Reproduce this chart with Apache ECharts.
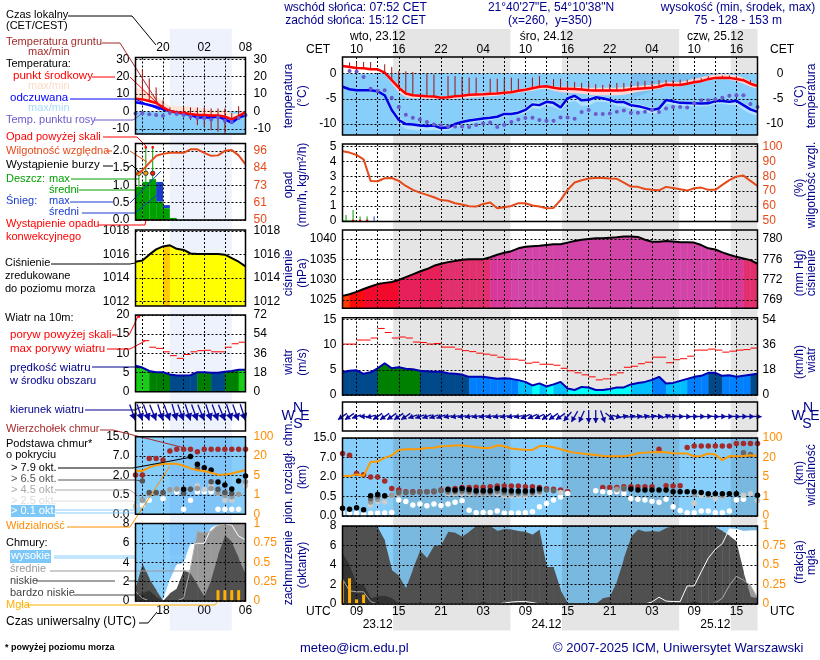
<!DOCTYPE html>
<html>
<head>
<meta charset="utf-8">
<title>meteorogram</title>
<script src="https://cdn.jsdelivr.net/npm/echarts@6/dist/echarts.min.js"></script>
<style>
html, body { margin: 0; padding: 0; background: #fff; }
#main { width: 820px; height: 660px; }
</style>
</head>
<body>
<div id="main"></div>
<script>
// ---- dane: lewy panel (16 godzin) ----
var leftCet = ['16','17','18','19','20','21','22','23','00','01','02','03','04','05','06','07','08']
var leftUtc = ['14','15','16','17','18','19','20','21','22','23','00','01','02','03','04','05','06']
var leftTemp = [7.3,6.9,6,4.8,2.3,0.2,-0.6,-0.8,-1.5,-2.1,-2.1,-2.3,-2.3,-3,-4.6,-2.7,-0.4]
var leftTempMax = [13.6,12.3,10.4,8.5,5.6,3,3,3,2.7,1.7,1.7,0.8,0.8,0.8,-1.2,-1.2,0.8]
var leftFeels = [5.2,4.6,3.7,2.7,1.2,0.2,-0.6,-1.2,-1.9,-3.5,-3.5,-3.5,-3,-4.6,-6.5,-3.5,-2.3]
var leftDew = [-1.2,-1,-1.7,-2.1,-2.5,-0.8,-1.5,-2.1,-3.1,-3.8,-4,-4.6,-3.5,-5.4,-6,-3.8,-2.1]
var leftGroundMax = [null,24.2,19,13.8,6.5,2.3,0.5,2.3,2.3,2.3,2.3,1.7,1.7,1.7,-1,3,null]
var leftGroundMin = [null,6.9,6,4.8,2,-2,-2,-2.1,-5,-7.9,-8.8,-10.8,-11.7,-12.7,-6.9,-5,null]
var leftRh = [80,83,88,92.7,94,94.7,94.7,94.7,97,97,94.7,92.7,93,96,96.5,93,87]
var leftRain = [0.96,1.1,1.18,0.53,0.34,0.06]
var leftSnowTop = [0.96,1.1,1.18,1.1,0.43,0.06]
var leftRainMax = [1.3,2.1,2.1]
var leftStorm = [1.35,1.35,1.35]
var leftOverscale = [null,2.1,2.1]
var leftConvective = [0,0,0,0]
var leftPress = [1015.4,1015.5,1016,1016.45,1016.7,1016.8,1016.5,1016.4,1016.1,1016.05,1016.05,1016.05,1016.05,1016,1015.7,1015.4,1015]
var leftWind = [6.8,6.3,5.4,5.1,5.1,4.5,4.2,4.2,4.3,5.1,5.1,4.95,4.95,5.2,5.4,5.7,5.7]
var leftGust = [null,13.3,11.6,11.3,10.4,9.4,8.7,9.7,10.4,10.7,10.8,10.4,10.4,11.6,12.5,12.9]
var leftGustOver = [19.6]
var leftDir = [340,342,340,338,342,340,344,340,342,340,338,342,340,338,342,340,342]
var leftTop = [2.1,2.1,6.4,6.4,6,9.1,9.8,9.8,9.8,8.8,9.8,9.8,9.8,9.8,9.8,9.8,9.8]
var leftB79 = [null,null,null,null,null,null,null,0.93,6.9,4.9,4,3.4,1.5,1.27,0.95,1.58,1.96]
var leftB65 = [null,1.58,0.68,0.68,0.68,null,null,0.62,0.93,3.85,null,1.52,0.93,0.68,0.6,null,null]
var leftB45 = [null,0.37,0.6,0.6,0.6,0.9,0.95,null,0.95,1,null,1,0.65,0.5,0.45,0.55,1.52]
var leftB25 = [0.21,0.35,null,null,null,0.88,0.95,null,null,1.2,0.93,1.2,0.6,0.36,0.36,0.55,1.2]
var leftB01 = [null,0.24,0.36,null,0.4,null,0.72,0.13,0.36,0.75,0.75,0.75,0.13,0.13,0.13,0.13,null]
var leftVis = [8.7,8.5,11.3,13,13.9,14,14,12.5,10.5,9,8.5,7.2,5.6,5.8,6.6,7.9,9.2]
var leftHigh = [0,0,0,0,0,2.1,3.7,3.9,5.8,5.95,5.95,7.5,7.85,7.95,7.85,6.7,6.3]
var leftMid = [1,0.3,0,0,0,0,0,0.3,3.4,7.2,7,7.2,7.9,8,8,8,8]
var leftLow = [1.3,3.9,2.3,1.1,0,0.8,1.3,3.2,2.85,1.65,0.45,2.2,4.75,6.8,6.1,4.4,2.7]
var leftVeryLow = [0.6,0.8,1.05,0.45,0,0,0,0,0,0,0,0,0,0,0,0,0]
var leftFog = [null,null,null,null,null,null,null,null,null,null,null,null,0.14,0.14,0.14,0.14]

// ---- dane: glowny panel (60 godzin) ----
var mainCet = ['08','09','10','11','12','13','14','15','16','17','18','19','20','21','22','23','00','01','02','03','04','05','06','07','08','09','10','11','12','13','14','15','16','17','18','19','20','21','22','23','00','01','02','03','04','05','06','07','08','09','10','11','12','13','14','15','16','17','18','19']
var mainUtc = ['07','08','09','10','11','12','13','14','15','16','17','18','19','20','21','22','23','00','01','02','03','04','05','06','07','08','09','10','11','12','13','14','15','16','17','18','19','20','21','22','23','00','01','02','03','04','05','06','07','08','09','10','11','12','13','14','15','16','17','18']
var dateTop = [[5,'wto, 23.12'],[29,'śro, 24.12'],[53,'czw, 25.12']]
var dateBottom = [[5,'23.12'],[29,'24.12'],[53,'25.12']]
var temp = [1.5,1.3,1.1,1.05,0.85,0.85,0.2,-1.3,-2.8,-3.95,-4.3,-4.4,-4.5,-4.55,-4.8,-4.7,-4.5,-4.4,-4.2,-4.15,-4.1,-4,-3.95,-3.8,-3.7,-3.4,-3.2,-2.9,-2.6,-2.5,-2.8,-3,-3,-3.05,-3.15,-3.3,-3.35,-3.35,-3.35,-3.35,-3.3,-3.1,-3,-2.9,-2.8,-2.6,-2.2,-2.25,-2.25,-2,-1.7,-1.5,-1.1,-0.85,-0.8,-0.85,-1.05,-1.3,-2,-2.45]
var tempMax = [1.6,1.4,1.2,1.15,0.95,0.95,0.4,-0.9,-2.4,-3.6,-4.1,-4.3,-4.4,-4.45,-4.6,-4.5,-4.3,-4.1,-3.9,-3.8,-3.8,-3.7,-3.6,-3.5,-3.3,-3.1,-2.9,-2.6,-2.3,-2.3,-2.5,-2.6,-2.6,-2.6,-2.7,-2.8,-2.8,-2.8,-2.8,-2.8,-2.7,-2.5,-2.4,-2.3,-2.2,-2,-1.6,-1.7,-1.7,-1.3,-1,-0.7,-0.4,-0.2,-0.15,-0.2,-0.4,-0.8,-1.6,-2.1]
var tempMin = [1.4,1.2,1,0.95,0.75,0.75,-0.1,-2,-3.7,-4.7,-4.9,-4.9,-5,-5,-5.1,-5.1,-5,-4.9,-4.8,-4.7,-4.6,-4.5,-4.4,-4.2,-4,-3.8,-3.6,-3.4,-3.1,-3,-3.4,-3.7,-3.8,-3.9,-4,-4.2,-4.3,-4.3,-4.3,-4.3,-4.2,-3.9,-3.6,-3.4,-3.3,-3,-2.6,-2.6,-2.6,-2.2,-2,-1.7,-1.4,-1.1,-1.1,-1.2,-1.5,-2,-2.6,-3]
var feels = [-2.6,-3.1,-3.3,-3.3,-3.3,-3.5,-4.3,-7.2,-9.2,-10,-10.1,-10.3,-10.4,-10.3,-10.8,-10.7,-10,-9.6,-9.3,-9.1,-8.9,-8.75,-8.55,-8,-8,-7.75,-7.2,-6.1,-6.25,-5.6,-5.8,-6.7,-4.9,-4.4,-5.3,-5.2,-4.7,-4.9,-5.25,-5.65,-5.65,-6.25,-6.45,-6.8,-7.2,-6.9,-5.25,-5.5,-5.8,-5.85,-5.9,-5.95,-5.9,-5.45,-5.45,-5.6,-5.4,-6.25,-7.1,-7.6]
var feelsMax = [-2.4,-2.9,-3.1,-3.1,-3.1,-3.3,-4,-6.6,-8.6,-9.7,-9.9,-10,-10.2,-10.1,-10.6,-10.4,-9.7,-9.3,-9,-8.7,-8.6,-8.4,-8.2,-7.6,-7.5,-7.3,-6.8,-5.6,-5.8,-5.1,-5.3,-6.2,-4.5,-4,-4.9,-4.7,-4.3,-4.5,-4.9,-5.2,-5.3,-5.9,-6,-6.4,-6.8,-6.5,-4.9,-5.2,-5.5,-5.5,-5.6,-5.6,-5.6,-5.1,-5.1,-5.3,-5,-5.8,-6.7,-7.2]
var feelsMin = [-2.8,-3.3,-3.5,-3.5,-3.5,-3.7,-4.8,-8,-10,-11,-11.2,-11.3,-11.3,-11.2,-11.4,-11.3,-10.6,-10.2,-9.9,-9.6,-9.4,-9.2,-9,-8.5,-8.4,-8.2,-7.8,-6.8,-7,-6.3,-6.6,-7.3,-5.8,-5.4,-6.4,-6.3,-5.6,-5.6,-5.8,-6.4,-6.5,-7,-7.2,-7.5,-8,-7.7,-6,-6.1,-6.4,-6.4,-6.5,-6.5,-6.4,-6,-6,-6.2,-6.2,-7.2,-8,-8.4]
var dew = [null,0.5,0.4,-0.65,-3,-3.4,-3.3,-4.8,-6.6,-8.15,-8.75,-9.1,-9.6,-10.1,-10.3,-10.5,-10.5,-10.5,-10.6,-10.2,-9.9,-9.7,-10.6,-10.2,-9.6,-9.1,-8.8,-8.75,-9.2,-9.35,-9.35,-8.7,-8.7,-8.95,-7.6,-7.2,-8,-8,-7.9,-7.55,-7.3,-7.75,-7.75,-7.55,-7.2,-7.6,-6.9,-6.6,-6.6,-6.7,-5.9,-5.3,-5.3,-5.1,-4.8,-4.4,-4.3,-4.3,-6.05,-6.6]
var groundMax = [null,2.2,2.2,2.3,2.3,null,1.85,1.3,0.5,0.45,0.3,null,0,-0.15,null,-0.5,-0.5,-0.65,-0.8,-0.8,null,-1,-1,-1,-0.8,-1,null,-0.8,-0.5,null,-1.1,-1,-1.65,-1.65,-1.85,-1.85,-2.1,-2.25,-2,-1.85,-1.85,-1.85,-1.6,-1.45,-1.45,-1.3,-1.3,-1.3,-1.2,-1.2,-1.05,-0.9,-0.5,null,-0.4,-0.4,-0.5,-1,-1.3,-1.65]
var mainRh = [96.9,96,94.4,91.5,76.9,76.7,78.7,78.9,76.9,73.5,70.9,69,67.5,65.9,64,63.5,61.9,61,59.9,59.6,61.4,62.3,58.5,59.2,60,61.9,61.9,60.3,59.6,58.5,58.7,64,70.9,75.8,77.4,78.5,78.9,78.9,78.5,78.3,75.8,73.1,72.9,71.5,71,70.6,72.9,72.2,71.3,70.4,72,72.4,70.9,70.9,74.2,77.4,79.8,80.5,76.9,73.5]
var mainRainMean = [0.04,0.04]
var mainRainMax = [0.4,0.74,0.3,0.3]
var mainSnowMax = [null,null,null,null,0.3]
var mainConvective = [null,0,0,0]
var mainPress = [1026,1026.4,1027,1027.7,1028.3,1028.9,1029.2,1029.4,1029.9,1030.6,1031.3,1032,1032.6,1033.4,1033.9,1034.3,1034.6,1034.9,1035,1035,1035,1035.5,1036.1,1036.6,1037,1037.7,1038.1,1038.2,1038.3,1038.5,1038.7,1038.7,1039.1,1039.5,1039.8,1040,1040.2,1040.2,1040.3,1040.4,1040.6,1040.6,1040.5,1039.8,1039.3,1039.3,1039.5,1039.4,1039.2,1039.2,1039.1,1038.5,1037.7,1037.4,1036.7,1036.1,1035.6,1035.2,1034.8,1033.9]
var mainWind = [4.5,4.8,4.9,4.2,4.5,5.3,6.3,5.3,5.5,5.2,5.1,4.8,4.7,4.6,4.6,4.3,4.2,4.05,3.6,3.6,3.6,3.4,3.2,3.3,3.2,2.95,2.6,1.9,2.3,1.7,2.1,2.6,1.3,1,1.6,1.5,1,1,1.2,1.5,1.5,2.1,2.4,2.6,3,3.6,2.3,2.4,2.8,3.2,3.6,3.8,4.4,4.4,3.8,3.9,3.6,3.8,4,4.2]
var mainGust = [10.1,10.1,10.9,10.9,11.3,13.2,12.4,11.3,11.5,11.3,10.5,10.4,10.1,10.2,9.5,9.5,9.1,8.8,8.6,8.3,8.1,7.9,7.5,7.1,7.1,6.9,6.3,6.5,6.1,6.1,5.9,5.3,4.8,4.4,4,3.6,3,3.2,4,4.4,5.5,5.7,6.2,6.5,7.5,7.5,6.4,7,7.2,7.7,8.9,8.9,9.1,8.9,8.5,8.7,8.9,9,9.3]
var mainDir = [55,55,70,90,75,55,55,55,55,55,70,70,70,70,70,80,80,80,80,80,80,80,80,80,80,80,65,65,65,55,55,55,40,30,25,0,0,340,310,285,260,260,262,258,260,270,250,265,270,272,270,270,268,272,270,270,272,270,270,272]
var mainTop = [8.6,7.9,2.9,2.6,2,2,1.7,1.12,1,0.86,0.86,0.86,0.86,0.86,1,1.07,1.12,1.2,1.2,1.22,1.22,1.25,1.3,1.3,1.3,1.3,1.25,1.25,1.2,1.1,1.05,1,0.86,null,null,null,null,1.2,1.2,1.2,1.25,1.25,1.25,1.25,1.25,10.4,1.32,1.3,1.32,11.1,11.7,11.7,11.7,11.7,11.7,11.7,12.7,12.7,12.7,12.7]
var mainB79 = [0.2,0.17,0.21,0.16,0.55,0.66,0.55,null,null,null,null,null,null,null,null,1.04,1,1.12,1.04,0.94,0.94,0.94,1.12,1,0.94,0.92,0.92,0.94,1.07,null,null,null,null,null,null,null,null,null,null,null,null,1.07,1,1,1,1,1,0.86,0.86,0.86,0.86,0.8,0.72,0.72,0.72,0.72,0.72,null,null,0.6]
var mainB65 = [null,null,null,null,0.44,0.5,null,null,0.8,0.8,0.8,0.82,0.86,0.92,0.94,0.9,0.9,0.95,0.9,0.85,0.85,0.85,0.95,0.85,0.82,0.8,0.8,0.82,0.95,1,0.94,null,null,null,null,null,null,null,null,null,1.1,null,null,null,null,null,null,null,null,null,null,null,null,null,null,null,null,9,8.2,null]
var mainB45 = [null,null,null,null,0.36,0.42,0.5,0.6,0.72,0.78,null,null,null,null,null,0.8,0.8,0.85,0.8,0.75,0.75,0.75,0.85,0.7,0.7,0.7,0.7,0.75,0.85,null,null,null,null,null,null,null,null,null,null,1.05,1.12,null,null,null,null,null,null,null,null,null,0.66,null,0.6,null,0.56,null,null,null,null,null]
var mainB25 = [null,null,null,null,0.28,0.37,0.36,0.56,0.68,null,null,null,null,null,null,0.72,0.72,0.72,0.72,0.72,0.72,0.72,0.72,0.55,0.55,0.55,0.55,0.72,0.72,null,null,0.8,null,null,null,null,null,null,null,1,1.05,null,null,null,null,null,null,null,null,null,0.33,0.6,0.55,0.45,0.5,null,null,0.6,0.72,0.4]
var mainB01 = [0.07,0.07,0.07,0.04,0.07,0.08,0.08,0.09,0.41,0.37,0.28,0.31,0.26,0.31,0.27,0.31,0.35,0.39,0.15,0.085,0.09,0.09,0.13,0.08,0.08,0.08,0.085,0.11,0.24,0.32,0.41,0.49,0.74,null,null,null,0.94,0.86,0.8,0.86,0.74,0.45,0.43,0.41,0.38,0.35,0.43,0.24,0.14,0.085,0.085,0.13,0.13,0.085,0.085,0.13,0.41,0.43,null,null]
var mainVis = [5.9,5.7,7,5.9,16.6,16.9,19.7,28.8,51,53.6,53.6,55,59,60,66,67,69,69,66,62,59,59,70,66,57,54,52,51,67,67,62,54,46,40,36,33,30,26.4,25,25,25,29,37.6,40,41.6,43,41.6,37.6,36,36,25,26.4,36,32,18,26,25,26,29,26]
var mainHigh = [0,0,0,0,0,0,0,0,0,0,0,0,0,0,0,0,0,0,0,0,0,0,0,0.1,0.2,0.25,0.25,0.15,0,0,0,0,0,0,0,0,0,0,0,0,0,0,0,0,0.2,0.7,0.3,0.25,0.25,1.85,1.85,3.3,4.7,5.6,6.2,7.7,7.65,7.45,7.5,7.5]
var mainMid = [2.55,1.35,1.25,1.25,0.25,0,0,0,0,0,0,0,0,0,0,0,0,0,0,0,0,0,0,0,0,0,0,0,0,0,0,0,0,0,0,0,0,0,0,0,0,0,0,0,0,0,0,0,0,0,0,0,0,0.1,0.6,1.9,2.85,2.45,1.9,0.6]
var mainLow = [8,8,8,7.95,7.95,7.9,6.5,3.5,2.9,1.6,3.6,5.5,4.7,6,6,7.4,7.3,6.9,7.4,8,7.95,8,7.5,7.7,7.65,7.5,7.4,7.1,7.65,3.8,3.8,1.4,0.07,0,0,0,0,0.6,0.75,2.3,4.7,6.9,7.65,7.4,7.5,7.4,7.8,8,8,8,8,8,7.9,7.9,7.5,7,6.4,3.3,0.75,0.6]
var mainVeryLow = [5.2,4,2,2,0.6,0.8,0.85,0.6,0.07,0,0,0,0,0,0,0,0,0,0,0,0.25,0,0,0,0,0,0,0,0,0,0,0,0,0,0,0,0,0,0,0,0,0,0,0,0,0,0,0,0,0,0.3,0,0,0,0,0,0,0,0,0]
var mainFog = [0.3,0.33,0.06,0.12]
// ciemniejszy znak wodny w panelu temperatury
var shadeTop = [null,null,null,null,null,null,null,null,null,null,null,null,null,null,null,null,null,null,null,null,null,null,null,null,null,null,null,null,null,null,null,null,null,null,null,null,null,null,null,null,null,0,0,0,0,0,0,0,0,0,0,0,0,0,0,0,0]
var shadeEdge = [null,null,null,null,null,null,null,null,null,null,null,null,null,null,null,null,null,null,null,null,null,null,null,null,null,null,null,null,null,null,null,null,null,null,null,null,null,null,null,null,null,-4.9,-4.5,-4,-3.5,-3.1,-2.6,-2.2,-1.7,-1.4,-1.1,-0.9,-0.7,-0.5,-0.4,-0.3,-0.1]

// ---- opisy osi ----
var baseKmTicks = [0,0.5,2,7,15]
var baseKmLabels = ['0.0','0.5','2.0','7.0','15.0']
var visKmTicks = [0,1,5,20,100]
var fogLabels = ['0','0.25','0.5','0.75','1']
var oktaTicks = [0,2,4,6,8]

var NAVY = '#00008b'
var RHCOLOR = '#e64a19'
var ORANGE = '#ff8c00'
var SKY = '#87cefa'

// kolor wg wartosci - skale
function windColorMain(v) {
    if (v < 2) return '#00ffff'
    if (v < 3) return '#00bfff'
    if (v < 4) return '#0080ff'
    if (v < 5) return '#004a8c'
    return '#008000'
}
function windColorLeft(v) {
    if (v < 5) return '#004a8c'
    if (v < 5.5) return '#008000'
    return '#19cc19'
}
function pressColor(a, b) {
    var v = Math.min(a, b)
    if (v < 1016.6) return '#ffff00'
    if (v < 1020) return '#ffc800'
    if (v < 1026.3) return '#ff3c00'
    if (v < 1027.5) return '#ff0a0a'
    if (v < 1029.9) return '#f20a2c'
    if (v < 1033.8) return '#e8205a'
    if (v < 1035.05) return '#e2306f'
    if (v < 1036.8) return '#d8389a'
    return '#d244a8'
}
// pozycja na osi nieliniowej (rowne odstepy miedzy podzialkami)
function toPos(v, stops) {
    if (v == null) return null
    for (var i = 0; i < stops.length - 1; i++) {
        if (v <= stops[i + 1]) return i + (v - stops[i]) / (stops[i + 1] - stops[i])
    }
    return stops.length - 1
}

var grids = [], xAxes = [], yAxes = [], series = [], graphics = []

function yAxisOf(gridIndex, side, cfg, showSplit) {
    var ticks = cfg.ticks || []
    var labels = cfg.labels
    return {
        type: 'value', gridIndex: gridIndex, position: side, min: cfg.min, max: cfg.max, z: 5,
        axisLine: {show: false},
        axisTick: {show: false, customValues: ticks},
        axisLabel: {
            show: ticks.length > 0, customValues: ticks, color: cfg.color || '#000', fontSize: 12,
            fontFamily: 'Liberation Sans', margin: cfg.margin || 6, align: cfg.align, showMinLabel: true, showMaxLabel: true,
            formatter: function (val) {
                if (!labels) return String(val)
                return labels[ticks.indexOf(val)]
            }
        },
        splitLine: {show: !!showSplit && ticks.length > 0, lineStyle: {color: '#000', type: [2, 2], width: 1}}
    }
}

function addPanel(rect, cats, gridFn, labelFn, xPos, xMargin, yl, yr) {
    var idx = grids.length
    grids.push({left: rect[0], top: rect[1], width: rect[2], height: rect[3], show: true, borderWidth: 0,
        backgroundColor: rect[4] || 'transparent'})
    xAxes.push({
        type: 'category', gridIndex: idx, data: cats, boundaryGap: false, position: xPos || 'bottom', z: 5,
        axisLine: {show: false}, axisTick: {show: false},
        axisLabel: labelFn ? {show: true, interval: labelFn, margin: xMargin, color: '#000', fontSize: 12, fontFamily: 'Liberation Sans'} : {show: false},
        splitLine: {show: true, interval: gridFn, lineStyle: {color: '#000', type: [2, 2], width: 1}}
    })
    yAxes[idx * 2] = yAxisOf(idx, 'left', yl, true)
    yAxes[idx * 2 + 1] = yAxisOf(idx, 'right', yr || {min: yl.min, max: yl.max})
    graphics.push({type: 'rect', z: 30, silent: true, shape: {x: rect[0], y: rect[1], width: rect[2], height: rect[3]},
        style: {fill: 'none', stroke: '#000', lineWidth: 1.5}})
    return idx
}

// wypelnienie miedzy dwiema krzywymi, odcinek po odcinku
function ribbon(p, lo, hi, color, z, side) {
    var rows = []
    var seethrough = String(color).indexOf('rgba') === 0
    for (var i = 0; i < hi.length - 1; i++) {
        if (hi[i] != null && hi[i + 1] != null) rows.push([i, hi[i]])
    }
    series.push({
        type: 'custom', xAxisIndex: p, yAxisIndex: p * 2 + (side || 0), z: z, silent: true, data: rows,
        clip: true,
        renderItem: function (params, api) {
            var i = rows[params.dataIndex][0]
            var a = api.coord([i, hi[i]]), b = api.coord([i + 1, hi[i + 1]])
            var c = api.coord([i + 1, lo[i + 1]]), d = api.coord([i, lo[i]])
            if (!seethrough) {
                // zakladka, zeby nie bylo szczelin miedzy odcinkami
                b[0] += 0.4
                c[0] += 0.4
            }
            return {type: 'polygon', shape: {points: [a, b, c, d]},
                style: {fill: typeof color === 'function' ? color(hi[i], hi[i + 1]) : color}}
        }
    })
}
// prostokaty godzinowe (opad)
function blocks(p, lo, hi, color, z) {
    series.push({
        type: 'custom', xAxisIndex: p, yAxisIndex: p * 2, z: z, silent: true,
        data: hi.map(function (v, i) { return [i, v] }),
        renderItem: function (params, api) {
            var i = params.dataIndex
            var a = api.coord([i, hi[i]]), b = api.coord([i + 1, lo ? lo[i] : 0])
            return {type: 'rect', shape: {x: a[0], y: a[1], width: b[0] - a[0], height: b[1] - a[1]}, style: {fill: color}}
        }
    })
}
// poziome kreski godzinowe (porywy)
function stepLines(p, vals, color) {
    var rows = []
    vals.forEach(function (v, i) { if (v != null) rows.push([i, v]) })
    series.push({
        type: 'custom', xAxisIndex: p, yAxisIndex: p * 2, z: 7, silent: true, data: rows,
        renderItem: function (params, api) {
            var r = rows[params.dataIndex]
            var a = api.coord([r[0], r[1]]), b = api.coord([r[0] + 1, r[1]])
            return {type: 'line', shape: {x1: a[0], y1: a[1], x2: b[0], y2: b[1]}, style: {stroke: color, lineWidth: 1}}
        }
    })
}
// pionowe kreski od lo do hi; half = w srodku godziny
function sticks(p, side, lo, hi, color, width, half, z) {
    var rows = []
    hi.forEach(function (v, i) { if (v != null) rows.push([i, v]) })
    series.push({
        type: 'custom', xAxisIndex: p, yAxisIndex: p * 2 + side, z: z || 7, silent: true, data: rows,
        renderItem: function (params, api) {
            var r = rows[params.dataIndex], i = r[0]
            var a = api.coord([i, r[1]]), b = api.coord([i, lo ? lo[i] : 0])
            var dx = half ? (api.coord([i + 1, r[1]])[0] - a[0]) / 2 : 0
            return {type: 'line', shape: {x1: a[0] + dx, y1: a[1], x2: a[0] + dx, y2: b[1]}, style: {stroke: color, lineWidth: width}}
        }
    })
}
// znaczki w srodku godziny (burza, opad ponad skala)
function marks(p, vals, fills, size, round) {
    var rows = []
    vals.forEach(function (v, i) { if (v != null) rows.push([i, v]) })
    series.push({
        type: 'custom', xAxisIndex: p, yAxisIndex: p * 2, z: 8, silent: true, data: rows,
        renderItem: function (params, api) {
            var r = rows[params.dataIndex], i = r[0]
            var a = api.coord([i, r[1]])
            var cx = a[0] + (api.coord([i + 1, r[1]])[0] - a[0]) / 2
            var fill = fills instanceof Array ? fills[i] : fills
            if (round) return {type: 'circle', shape: {cx: cx, cy: a[1], r: size}, style: {fill: fill, stroke: '#333', lineWidth: 1}}
            return {type: 'rect', shape: {x: cx - size, y: a[1] - size, width: size * 2, height: size * 2}, style: {fill: fill}}
        }
    })
}
function line(p, side, vals, color, width, z) {
    series.push({type: 'line', xAxisIndex: p, yAxisIndex: p * 2 + side, data: vals, showSymbol: false, z: z || 8, silent: true,
        lineStyle: {color: color, width: width}, itemStyle: {color: color}})
}
function dots(p, side, vals, color, size, z) {
    var rows = []
    vals.forEach(function (v, i) { if (v != null) rows.push([i, v]) })
    series.push({type: 'scatter', xAxisIndex: p, yAxisIndex: p * 2 + side, data: rows, symbolSize: size, z: z || 8, silent: true,
        itemStyle: {color: color, opacity: 1}})
}
// strzalki kierunku wiatru
function arrows(p, dirs, lenFn, anchor, headLen, headW) {
    series.push({
        type: 'custom', xAxisIndex: p, yAxisIndex: p * 2, z: 8, silent: true,
        data: dirs.map(function (d, i) { return [i, 0.5] }),
        renderItem: function (params, api) {
            var i = params.dataIndex
            var th = dirs[i] * Math.PI / 180
            var ux = -Math.sin(th), uy = Math.cos(th)
            var c = api.coord([i, anchor])
            var L = lenFn(uy)
            var tip = anchor === 0.5 ? [c[0] + ux * L / 2, c[1] + uy * L / 2] : [c[0], c[1]]
            var tail = [tip[0] - ux * L, tip[1] - uy * L]
            var bx = tip[0] - ux * headLen, by = tip[1] - uy * headLen
            return {type: 'group', children: [
                {type: 'line', shape: {x1: tail[0], y1: tail[1], x2: tip[0], y2: tip[1]}, style: {stroke: '#0a0aa0', lineWidth: 1.3}},
                {type: 'polygon', shape: {points: [tip, [bx - uy * headW, by + ux * headW], [bx + uy * headW, by - ux * headW]]}, style: {fill: '#0a0aa0'}}
            ]}
        }
    })
}
function belowZero(p, minVal) {
    series.push({type: 'line', xAxisIndex: p, yAxisIndex: p * 2, data: [], z: 1, silent: true,
        markArea: {silent: true, itemStyle: {color: SKY}, data: [[{yAxis: minVal}, {yAxis: 0}]]}})
}

// ---- panele ----
var LX = 135.5, LW = 110, MX = 342.5, MW = 415
function leftGrid(i) { return i % 3 === 1 }
function leftLabel(i) { return i % 6 === 4 }
function mainGrid(i) { return i % 3 === 2 }
function mainLabel(i) { return i % 6 === 2 }

var pLT = addPanel([LX, 57.5, LW, 76.5], leftCet, leftGrid, leftLabel, 'top', 4,
    {min: -13, max: 31, ticks: [-10,0,10,20,30]}, {min: -13, max: 31, ticks: [-10,0,10,20,30], margin: 8})
var pLR = addPanel([LX, 143.5, LW, 76.5], leftCet, leftGrid, null, null, 0,
    {min: 0, max: 2.21, ticks: [0,0.5,1,1.5,2], labels: ['0.0','0.5','1.0','1.5','2.0']},
    {min: 50, max: 100.9, ticks: [50,61.5,73,84.5,96], labels: ['50','61','73','84','96'], color: RHCOLOR, margin: 8})
var pLP = addPanel([LX, 230, LW, 76], leftCet, leftGrid, null, null, 0,
    {min: 1011.63, max: 1018.1, ticks: [1012,1014,1016,1018]},
    {min: 1011.63, max: 1018.1, ticks: [1012,1014,1016,1018], margin: 8})
var pLW = addPanel([LX, 315, LW, 76.7], leftCet, leftGrid, null, null, 0,
    {min: 0, max: 20, ticks: [0,5,10,15,20]},
    {min: 0, max: 20, ticks: [0,5,10,15,20], labels: ['0','18','36','54','72'], margin: 8})
var pLD = addPanel([LX, 402.5, LW, 28.5], leftCet, leftGrid, null, null, 0, {min: 0, max: 1})
var pLB = addPanel([LX, 436.7, LW, 77.6, SKY], leftCet, leftGrid, null, null, 0,
    {min: 0, max: 4, ticks: [0,1,2,3,4], labels: baseKmLabels},
    {min: 0, max: 4, ticks: [0,1,2,3,4], labels: ['0','1','5','20','100'], color: ORANGE, margin: 8})
var pLC = addPanel([LX, 523.5, LW, 77.5, SKY], leftUtc, leftGrid, leftLabel, 'bottom', 4,
    {min: 0, max: 8, ticks: oktaTicks},
    {min: 0, max: 1, ticks: [0,0.25,0.5,0.75,1], labels: fogLabels, color: ORANGE, margin: 8})

var pMT = addPanel([MX, 57, MW, 78], mainCet, mainGrid, mainLabel, 'top', 1,
    {min: -12.17, max: 3.29, ticks: [-10,-5,0]}, {min: -12.17, max: 3.29, ticks: [-10,-5,0], align: 'right', margin: 26})
var pMR = addPanel([MX, 144, MW, 77.5], mainCet, mainGrid, null, null, 0,
    {min: -0.04, max: 5.18, ticks: [0,1,2,3,4,5]},
    {min: 49.55, max: 101.8, ticks: [50,60,70,80,90,100], color: RHCOLOR, margin: 5})
var pMP = addPanel([MX, 230, MW, 78.3], mainCet, mainGrid, null, null, 0,
    {min: 1022.95, max: 1042.2, ticks: [1025,1030,1035,1040]},
    {min: 1022.95, max: 1042.2, ticks: [1025,1030,1035,1040], labels: ['769','772','776','780'], margin: 5})
var pMW = addPanel([MX, 317.7, MW, 77.3], mainCet, mainGrid, null, null, 0,
    {min: 0, max: 15.33, ticks: [0,5,10,15]},
    {min: 0, max: 15.33, ticks: [0,5,10,15], labels: ['0','18','36','54'], margin: 5})
var pMD = addPanel([MX, 402, MW, 29], mainCet, mainGrid, null, null, 0, {min: 0, max: 1})
var pMB = addPanel([MX, 438, MW, 78, SKY], mainCet, mainGrid, null, null, 0,
    {min: 0, max: 4, ticks: [0,1,2,3,4], labels: baseKmLabels},
    {min: 0, max: 4, ticks: [0,1,2,3,4], labels: ['0','1','5','20','100'], color: ORANGE, margin: 5})
var pMC = addPanel([MX, 526, MW, 78, SKY], mainUtc, mainGrid, mainLabel, 'bottom', 2,
    {min: 0, max: 8, ticks: oktaTicks},
    {min: 0, max: 1, ticks: [0,0.25,0.5,0.75,1], labels: fogLabels, color: ORANGE, margin: 5})

// daty jako dodatkowa os na panelu gornym i dolnym
function dateAxis(gridIndex, pos, offset, margin, cats, rows) {
    var names = cats.map(function () { return '' })
    rows.forEach(function (r) { names[r[0]] = r[1] })
    xAxes.push({type: 'category', gridIndex: gridIndex, data: names, boundaryGap: false, position: pos, offset: offset, z: 5,
        axisLine: {show: false}, axisTick: {show: false}, splitLine: {show: false},
        axisLabel: {interval: 0, margin: margin, color: '#000', fontSize: 12, fontFamily: 'Liberation Sans'}})
}
dateAxis(pMT, 'top', 13, 1, mainCet, dateTop)
dateAxis(pMC, 'bottom', 13, 2, mainUtc, dateBottom)

// ---- noc (pasy w tle) ----
var bandLeft = [[5, 14]]
var bandMain = [[7.2, 23.87], [31.2, 47.87], [55.2, 59]]
function bandGrid(x, w, max, bands, color) {
    var idx = grids.length
    grids.push({left: x, top: 29, width: w, height: 601.5, show: false})
    xAxes.push({type: 'value', gridIndex: idx, min: 0, max: max, show: false})
    yAxes[idx * 2] = {type: 'value', gridIndex: idx, min: 0, max: 1, show: false}
    yAxes[idx * 2 + 1] = {type: 'value', gridIndex: idx, min: 0, max: 1, show: false}
    return {idx: idx, bands: bands, color: color}
}
// osie dat dopisane wyzej, wiec indeks osi x dla pasow trzeba policzyc po dopisaniu
var bandInfo = [bandGrid(LX, LW, 16, bandLeft, 'rgba(30,90,230,0.08)'), bandGrid(MX, MW, 59, bandMain, 'rgba(0,0,0,0.1)')]
bandInfo.forEach(function (b, n) {
    series.push({type: 'line', xAxisIndex: xAxes.length - 2 + n, yAxisIndex: b.idx * 2, data: [], z: 2, silent: true,
        markArea: {silent: true, itemStyle: {color: b.color},
            data: b.bands.map(function (r) { return [{xAxis: r[0]}, {xAxis: r[1]}] })}})
})

// ---- lewe wykresy ----
belowZero(pLT, -13)
ribbon(pLT, leftTemp, leftTempMax, '#fde3d6', 3)
sticks(pLT, 0, leftGroundMin, leftGroundMax, '#a01010', 1)
line(pLT, 0, leftFeels, '#0000ff', 2.5)
line(pLT, 0, leftTemp, '#ff0000', 2.5, 9)
dots(pLT, 0, leftDew, '#6a5acd', 4, 10)

blocks(pLR, leftRain, leftSnowTop, '#1a3ccf', 3)
blocks(pLR, null, leftRain, '#00a000', 3)
sticks(pLR, 0, null, leftRainMax, '#00a000', 1, true)
line(pLR, 1, leftRh, RHCOLOR, 2)
marks(pLR, leftStorm, ['#ffee00', '#ffa500', '#ff2000'], 2.2, true)
marks(pLR, leftOverscale, '#ff0000', 1.2, false)
marks(pLR, leftConvective, '#ff0000', 1, false)

ribbon(pLP, leftPress.map(function () { return 1011.63 }), leftPress, pressColor, 3)
line(pLP, 0, leftPress, '#000', 2)

ribbon(pLW, leftWind.map(function () { return 0 }), leftWind, windColorLeft, 3)
line(pLW, 0, leftWind, '#0000b0', 2)
stepLines(pLW, leftGust, '#ff0000')
marks(pLW, leftGustOver, '#ff0000', 1.2, false)

arrows(pLD, leftDir, function () { return 17 }, 0.37, 7, 4)

dots(pLB, 0, leftTop.map(function (v) { return toPos(v, baseKmTicks) }), '#a52a2a', 5.5)
dots(pLB, 0, leftB01.map(function (v) { return toPos(v, baseKmTicks) }), '#ffffff', 5.5)
dots(pLB, 0, leftB25.map(function (v) { return toPos(v, baseKmTicks) }), '#cccccc', 5.5)
dots(pLB, 0, leftB45.map(function (v) { return toPos(v, baseKmTicks) }), '#999999', 5.5)
dots(pLB, 0, leftB65.map(function (v) { return toPos(v, baseKmTicks) }), '#555555', 5.5)
dots(pLB, 0, leftB79.map(function (v) { return toPos(v, baseKmTicks) }), '#000000', 5.5)
line(pLB, 1, leftVis.map(function (v) { return toPos(v, visKmTicks) }), '#ff9900', 2, 9)

var zeroLeft = leftHigh.map(function () { return 0 })
ribbon(pLC, zeroLeft, leftHigh, '#ffffff', 3)
ribbon(pLC, zeroLeft, leftMid, '#999999', 3)
ribbon(pLC, zeroLeft, leftLow, '#505050', 3)
ribbon(pLC, zeroLeft, leftVeryLow, '#333333', 3)
line(pLC, 0, leftHigh, '#ffffff', 1, 6)
line(pLC, 0, leftMid, '#aaaaaa', 1, 6)
sticks(pLC, 1, null, leftFog, '#ffb000', 3, false, 7)

// ---- glowne wykresy ----
belowZero(pMT, -12.17)
ribbon(pMT, shadeEdge, shadeTop, 'rgba(0,60,160,0.1)', 2)
ribbon(pMT, tempMin, tempMax, '#fdd5d2', 3)
ribbon(pMT, feelsMin, feelsMax, '#b4e2fd', 3)
sticks(pMT, 0, temp, groundMax, '#a01010', 1)
line(pMT, 0, feels, '#0000e0', 2.5)
line(pMT, 0, temp, '#ff0000', 2.5, 9)
dots(pMT, 0, dew, '#6a5acd', 4, 10)

blocks(pMR, null, mainRainMean, '#00a000', 3)
sticks(pMR, 0, null, mainRainMax, '#00a000', 1, true)
sticks(pMR, 0, null, mainSnowMax, '#1a3ccf', 1, true)
marks(pMR, mainConvective, '#e00000', 1.2, false)
line(pMR, 1, mainRh, RHCOLOR, 2)

ribbon(pMP, mainPress.map(function () { return 1022.95 }), mainPress, pressColor, 3)
line(pMP, 0, mainPress, '#000', 2)

ribbon(pMW, mainWind.map(function () { return 0 }), mainWind, windColorMain, 3)
line(pMW, 0, mainWind, '#0000b0', 2)
stepLines(pMW, mainGust, '#ff0000')

arrows(pMD, mainDir, function (uy) { return 8 + 5 * Math.abs(uy) }, 0.5, 5, 3)

dots(pMB, 0, mainTop.map(function (v) { return toPos(v, baseKmTicks) }), '#a52a2a', 5.5)
dots(pMB, 0, mainB01.map(function (v) { return toPos(v, baseKmTicks) }), '#ffffff', 5.5)
dots(pMB, 0, mainB25.map(function (v) { return toPos(v, baseKmTicks) }), '#cccccc', 5.5)
dots(pMB, 0, mainB45.map(function (v) { return toPos(v, baseKmTicks) }), '#999999', 5.5)
dots(pMB, 0, mainB65.map(function (v) { return toPos(v, baseKmTicks) }), '#666666', 5.5)
dots(pMB, 0, mainB79.map(function (v) { return toPos(v, baseKmTicks) }), '#000000', 5.5)
line(pMB, 1, mainVis.map(function (v) { return toPos(v, visKmTicks) }), '#ff9900', 2, 9)

var zeroMain = mainHigh.map(function () { return 0 })
ribbon(pMC, zeroMain, mainHigh, '#ffffff', 3)
ribbon(pMC, zeroMain, mainMid, '#999999', 3)
ribbon(pMC, zeroMain, mainLow, '#505050', 3)
ribbon(pMC, zeroMain, mainVeryLow, '#333333', 3)
line(pMC, 0, mainHigh, '#ffffff', 1, 6)
line(pMC, 0, mainMid, '#aaaaaa', 1, 6)
sticks(pMC, 1, null, mainFog, '#ffb000', 3, false, 7)

// ---- napisy ----
var textSize = 12
function txt(s, x, y, color, o) {
    o = o || {}
    graphics.push({type: 'text', z: 31, silent: true, x: x, y: y, rotation: o.rot || 0,
        style: {text: s, x: 0, y: 0, fill: color, font: (o.bold ? 'bold ' : '') + (o.size || textSize) + 'px "Liberation Sans"',
            align: o.align || 'left', verticalAlign: 'middle'}})
}
function lead(points, color, width) {
    graphics.push({type: 'polyline', z: 29, silent: true, shape: {points: points},
        style: {stroke: color, lineWidth: width || 1, fill: 'none'}})
}
function rotTxt(s, x, y, color) { txt(s, x, y, color, {rot: Math.PI / 2, align: 'center', size: 12}) }

// naglowek
txt('wschód słońca: 07:52 CET', 355.5, 8, NAVY, {align: 'center'})
txt('zachód słońca: 15:12 CET', 355.5, 21, NAVY, {align: 'center'})
txt('21°40\'27"E, 54°10\'38"N', 551, 8, NAVY, {align: 'center'})
txt('(x=260,  y=350)', 550, 21, NAVY, {align: 'center'})
txt('wysokość (min, środek, max)', 738, 8, NAVY, {align: 'center'})
txt('75 - 128 - 153 m', 738, 21, NAVY, {align: 'center'})
txt('CET', 306, 50, '#000')
txt('CET', 770, 50, '#000')
txt('UTC', 306, 612, '#000')
txt('UTC', 770, 612, '#000')
txt('meteo@icm.edu.pl', 300, 648, NAVY, {size: 13})
txt('© 2007-2025 ICM, Uniwersytet Warszawski', 553, 648, NAVY, {size: 13})
txt('* powyżej poziomu morza', 5, 648, '#000', {bold: true, size: 9})

// opisy osi po lewej stronie glownego panelu
rotTxt('temperatura', 289, 96, NAVY)
rotTxt('(°C)', 303, 96, NAVY)
rotTxt('opad', 289, 185, NAVY)
rotTxt('(mm/h, kg/m²/h)', 303, 185, NAVY)
rotTxt('ciśnienie', 289, 273, NAVY)
rotTxt('(hPa)', 303, 273, NAVY)
rotTxt('wiatr', 289, 362, NAVY)
rotTxt('(m/s)', 303, 362, NAVY)
rotTxt('pion. rozciągł. chm.', 289, 472, NAVY)
rotTxt('(km)', 303, 477, NAVY)
rotTxt('zachmurzenie', 289, 568, NAVY)
rotTxt('(oktanty)', 303, 565, NAVY)
// po prawej
rotTxt('temperatura', 812, 96, NAVY)
rotTxt('(°C)', 800, 96, NAVY)
rotTxt('wilgotność wzgl.', 812, 185, NAVY)
rotTxt('(%)', 800, 188, NAVY)
rotTxt('ciśnienie', 812, 273, NAVY)
rotTxt('(mm Hg)', 800, 273, NAVY)
rotTxt('wiatr', 812, 360, NAVY)
rotTxt('(km/h)', 800, 362, NAVY)
rotTxt('widzialność', 812, 475, NAVY)
rotTxt('(km)', 800, 473, NAVY)
rotTxt('mgła', 812, 562, NAVY)
rotTxt('(frakcja)', 800, 562, NAVY)
// roza wiatrow
txt('N', 298, 408, NAVY, {size: 14, align: 'center'})
txt('W', 288, 416, NAVY, {size: 14, align: 'center'})
txt('E', 305, 416, NAVY, {size: 14, align: 'center'})
txt('S', 298, 424, NAVY, {size: 14, align: 'center'})
txt('N', 808, 408, NAVY, {size: 14, align: 'center'})
txt('W', 798, 416, NAVY, {size: 14, align: 'center'})
txt('E', 815, 416, NAVY, {size: 14, align: 'center'})
txt('S', 807, 424, NAVY, {size: 14, align: 'center'})

// legenda po lewej
textSize = 11
txt('Czas lokalny', 6, 15, '#000')
txt('(CET/CEST)', 6, 26, '#000')
lead([[68, 16], [132, 16], [156, 45]], '#000')
txt('Temperatura gruntu', 6, 42, '#a52a2a')
txt('max/min', 28, 52, '#a52a2a')
lead([[102, 43], [120, 43], [158, 103]], '#a52a2a')
txt('Temperatura:', 6, 64, '#000')
txt('punkt środkowy', 13, 76, '#ff0000', {size: 11.5})
lead([[92, 77], [115, 77]], '#ff0000')
lead([[130, 77], [157, 103]], '#ff0000')
txt('max/min', 28, 86, '#fadcc8')
txt('odczuwana', 10, 98, '#0000ff', {size: 11.5})
lead([[70, 99], [135, 99], [160, 110]], '#0000ff')
txt('max/min', 28, 108, '#a9dcfa')
txt('Temp. punktu rosy', 6, 120, '#6a5acd')
lead([[94, 120], [133, 120], [143, 113]], '#6a5acd')
txt('Opad powyżej skali', 6, 137, '#ff0000')
lead([[103, 137], [137, 137], [146, 146]], '#ff0000')
txt('Wilgotność względna', 6, 151, RHCOLOR)
lead([[106, 151], [112, 151]], RHCOLOR)
lead([[130, 151], [147, 162]], RHCOLOR)
txt('Wystąpienie burzy', 6, 165, '#000', {size: 11.5})
lead([[103, 166], [113, 166]], '#000')
lead([[128, 168], [132, 165], [139, 172]], '#000')
txt('Deszcz:', 6, 179, '#00a000')
txt('max', 49, 179, '#00a000')
lead([[71, 179], [139, 179]], '#00a000')
txt('średni', 49, 190, '#00a000')
lead([[79, 190], [147, 190]], '#00a000')
txt('Śnieg:', 6, 201, '#1a3ccf')
txt('max', 49, 201, '#1a3ccf')
lead([[70, 202], [113, 202]], '#1a3ccf')
lead([[130, 203], [161, 171]], '#1a3ccf')
txt('średni', 49, 212, '#1a3ccf')
lead([[82, 213], [135, 213], [163, 190]], '#1a3ccf')
txt('Wystąpienie opadu', 6, 224, '#ff0000')
lead([[98, 225], [145, 225], [146, 220]], '#ff0000')
txt('konwekcyjnego', 6, 237, '#ff0000')
txt('Ciśnienie', 5, 263, '#000')
lead([[51, 264], [130, 264], [135, 263]], '#000')
txt('zredukowane', 5, 276, '#000')
txt('do poziomu morza', 5, 289, '#000')
txt('Wiatr na 10m:', 5, 318, '#000')
txt('poryw powyżej skali', 10, 335, '#ff0000', {size: 11.5})
lead([[112, 335], [118, 335]], '#ff0000')
lead([[129, 335], [134, 325], [138, 316]], '#ff0000')
txt('max porywy wiatru', 10, 349, '#ff0000', {size: 11.5})
lead([[107, 349], [130, 349], [145, 341]], '#ff0000')
txt('prędkość wiatru', 10, 368, '#00008b', {size: 11.5})
lead([[92, 367], [135, 367], [140, 368]], '#00008b')
txt('w środku obszaru', 10, 381, '#00008b')
txt('kierunek wiatru', 10, 410, '#00008b')
lead([[85, 410], [135, 410], [141, 407]], '#00008b')
txt('Wierzchołek chmur', 6, 429, '#a52a2a')
lead([[100, 430], [113, 430], [185, 448]], '#a52a2a')
txt('Podstawa chmur*', 6, 444, '#000')
txt('o pokryciu', 6, 455, '#000')
txt('> 7.9 okt.', 11, 468, '#000')
lead([[58, 468], [133, 468], [192, 457]], '#000')
txt('> 6.5 okt.', 11, 479, '#555')
lead([[58, 480], [135, 480], [143, 481]], '#555')
txt('> 4.5 okt.', 11, 490, '#aaa')
lead([[55, 490], [130, 490], [143, 500]], '#aaa')
txt('> 2.5 okt.', 11, 501, '#ddd')
lead([[53, 501], [133, 501], [137, 505]], '#ddd')
graphics.push({type: 'rect', z: 28, silent: true, shape: {x: 11, y: 505, width: 44, height: 12}, style: {fill: '#7ec8f8'}})
txt('> 0.1 okt.', 11, 511, '#fff')
lead([[55, 510], [135, 510]], SKY)
lead([[55, 513], [135, 513]], SKY)
txt('Widzialność', 6, 526, '#ff8c00')
lead([[67, 527], [130, 527], [170, 466]], '#ff8c00')
txt('Chmury:', 6, 543, '#000')
graphics.push({type: 'rect', z: 28, silent: true, shape: {x: 10, y: 550, width: 41, height: 13}, style: {fill: '#7ec8f8'}})
txt('wysokie', 11, 556, '#fff')
lead([[54, 556], [186, 556]], SKY)
lead([[54, 558], [186, 558]], SKY)
txt('średnie', 10, 569, '#999')
lead([[50, 571], [193, 571]], '#999')
txt('niskie', 10, 581, '#444')
lead([[36, 581], [115, 581]], '#444')
lead([[128, 581], [135, 581]], '#444')
txt('bardzo niskie', 10, 593, '#444')
lead([[74, 595], [138, 595], [150, 590]], '#444')
txt('Mgła', 6, 605, '#ffb000')
lead([[26, 605], [215, 605], [219, 600]], '#ffb000')
txt('Czas uniwersalny (UTC)', 6, 622, '#000', {size: 12})
lead([[139, 623], [148, 623], [157, 612]], '#000')

var option = {
    animation: false,
    backgroundColor: '#ffffff',
    grid: grids,
    xAxis: xAxes,
    yAxis: yAxes,
    series: series,
    graphic: {elements: graphics}
}
var myChart = echarts.init(document.getElementById('main'), null, {renderer: 'canvas'})
myChart.setOption(option)
</script>
</body>
</html>
